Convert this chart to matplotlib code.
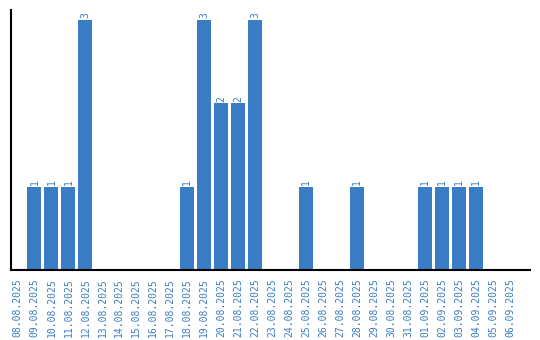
import matplotlib
matplotlib.use("Agg")
import matplotlib.pyplot as plt

dates = ["08.08.2025", "09.08.2025", "10.08.2025", "11.08.2025", "12.08.2025",
         "13.08.2025", "14.08.2025", "15.08.2025", "16.08.2025", "17.08.2025",
         "18.08.2025", "19.08.2025", "20.08.2025", "21.08.2025", "22.08.2025",
         "23.08.2025", "24.08.2025", "25.08.2025", "26.08.2025", "27.08.2025",
         "28.08.2025", "29.08.2025", "30.08.2025", "31.08.2025", "01.09.2025",
         "02.09.2025", "03.09.2025", "04.09.2025", "05.09.2025", "06.09.2025"]
counts = [0, 1, 1, 1, 3,
          0, 0, 0, 0, 0,
          1, 3, 2, 2, 3,
          0, 0, 1, 0, 0,
          1, 0, 0, 0, 1,
          1, 1, 1, 0, 0]

color = "#3b7dc4"
fig = plt.figure(figsize=(5.4, 3.4), dpi=100)
ax = fig.add_axes([10.5/540, 1 - 270/340, (530 - 10.5)/540, (270 - 10)/340])
x = list(range(len(dates)))
ax.bar(x, counts, width=0.82, color=color)
for xi, c in zip(x, counts):
    if c > 0:
        ax.text(xi, c + 0.02, str(c), rotation=90, ha="center", va="bottom",
                color=color, fontsize=7, family="DejaVu Sans Mono")
ax.set_xlim(-0.41, 30.18)
ax.set_ylim(0, 3.12)
ax.set_xticks(x)
ax.set_xticklabels(dates, rotation=90, color=color, fontsize=7, family="DejaVu Sans Mono")
ax.tick_params(axis="x", length=0, pad=6)
ax.set_yticks([])
for s in ["top", "right"]:
    ax.spines[s].set_visible(False)
ax.spines["left"].set_linewidth(1.5)
ax.spines["bottom"].set_linewidth(1.5)
fig.savefig("out.png", dpi=100)
